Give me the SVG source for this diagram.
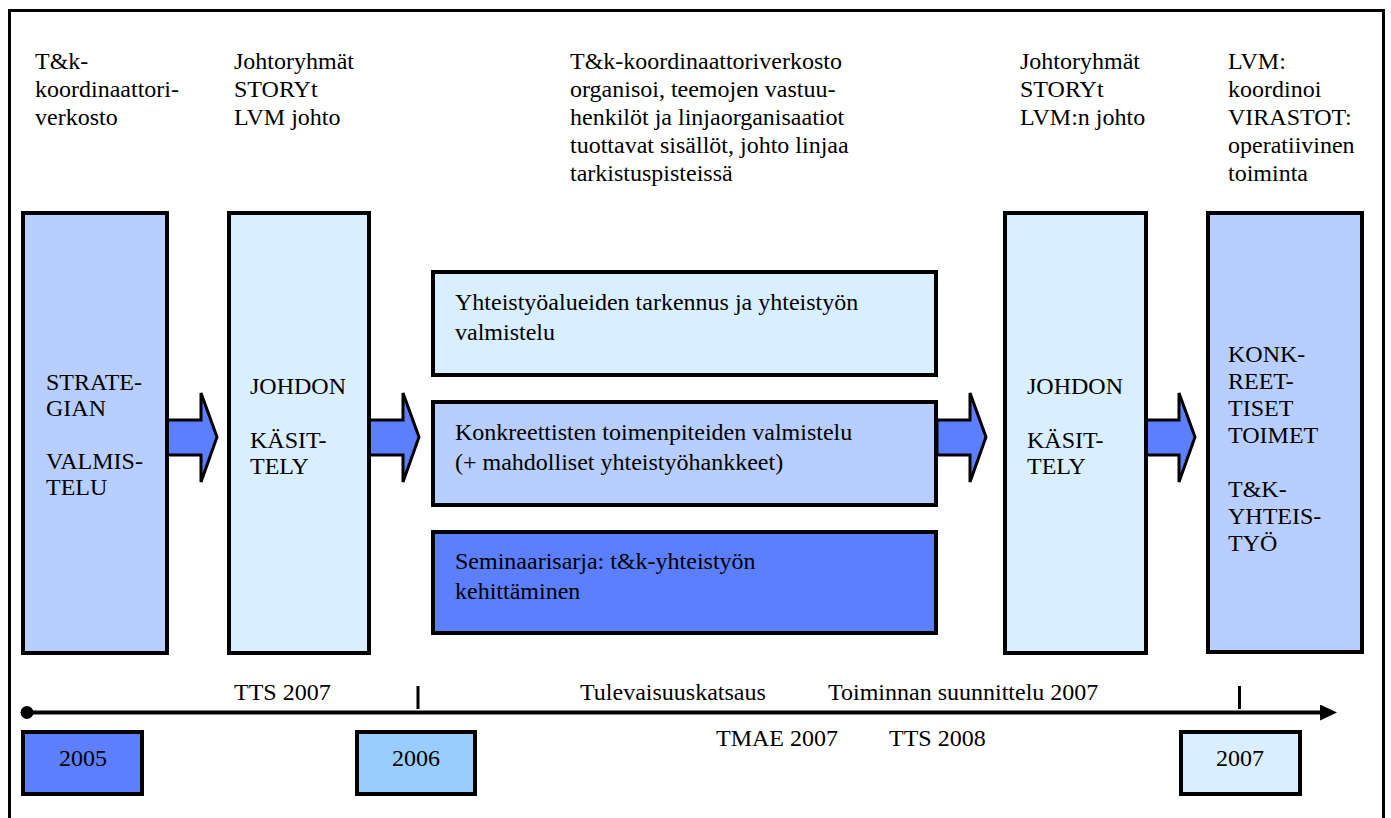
<svg xmlns="http://www.w3.org/2000/svg" width="1391" height="818" viewBox="0 0 1391 818">
<style>
text{font-family:"Liberation Serif","Times New Roman",serif;font-size:24px;fill:#000}
.box{stroke:#000;stroke-width:4}
.c1{fill:#B7CEFF}
.c2{fill:#D9EEFF}
.c3{fill:#5B7FFF}
.c4{fill:#99CCFF}
.arr{fill:#5B7FFF;stroke:#000;stroke-width:3;stroke-linejoin:miter}
.mid{text-anchor:middle}
</style>
<defs>
<marker id="ah" markerWidth="17" markerHeight="16" refX="0" refY="8" orient="auto" markerUnits="userSpaceOnUse">
<path d="M0,0 L17,8 L0,16 Z" fill="#000"/>
</marker>
</defs>
<rect width="1391" height="818" fill="#fff"/>
<path d="M9.5,830 V10.5 H1383.5 V830" fill="none" stroke="#000" stroke-width="3"/>

<g id="headers">
<text x="35" y="69">T&amp;k-</text>
<text x="35" y="97">koordinaattori-</text>
<text x="35" y="125">verkosto</text>
<text x="234" y="69">Johtoryhmät</text>
<text x="234" y="97">STORYt</text>
<text x="234" y="125">LVM johto</text>
<text x="570" y="69">T&amp;k-koordinaattoriverkosto</text>
<text x="570" y="97">organisoi, teemojen vastuu-</text>
<text x="570" y="125">henkilöt ja linjaorganisaatiot</text>
<text x="570" y="153">tuottavat sisällöt, johto linjaa</text>
<text x="570" y="181">tarkistuspisteissä</text>
<text x="1020" y="69">Johtoryhmät</text>
<text x="1020" y="97">STORYt</text>
<text x="1020" y="125">LVM:n johto</text>
<text x="1228" y="69">LVM:</text>
<text x="1228" y="97">koordinoi</text>
<text x="1228" y="125">VIRASTOT:</text>
<text x="1228" y="153">operatiivinen</text>
<text x="1228" y="181">toiminta</text>
</g>

<g id="connectors">
<polygon class="arr" points="167,420 201,420 201,393 217,437 201,482 201,455 167,455"/>
<polygon class="arr" points="369,420 403,420 403,393 419,437 403,482 403,455 369,455"/>
<polygon class="arr" points="937,420 970,420 970,393 986,437 970,482 970,455 937,455"/>
<polygon class="arr" points="1146,420 1179,420 1179,393 1195,437 1179,482 1179,455 1146,455"/>
</g>

<g id="node-strategia">
<rect class="box c1" x="23" y="213" width="144" height="440"/>
<text x="46" y="390">STRATE-</text>
<text x="46" y="416">GIAN</text>
<text x="46" y="469">VALMIS-</text>
<text x="46" y="495">TELU</text>
</g>

<g id="node-johdon1">
<rect class="box c2" x="229" y="213" width="140" height="440"/>
<text x="250" y="394">JOHDON</text>
<text x="250" y="448">KÄSIT-</text>
<text x="250" y="474">TELY</text>
</g>

<g id="node-yhteistyoalueet">
<rect class="box c2" x="433" y="272" width="503" height="103"/>
<text x="455" y="310">Yhteistyöalueiden tarkennus ja yhteistyön</text>
<text x="455" y="340">valmistelu</text>
</g>

<g id="node-konkreettiset">
<rect class="box c1" x="433" y="402" width="503" height="103"/>
<text x="455" y="440">Konkreettisten toimenpiteiden valmistelu</text>
<text x="455" y="470">(+ mahdolliset yhteistyöhankkeet)</text>
</g>

<g id="node-seminaari">
<rect class="box c3" x="433" y="532" width="503" height="101"/>
<text x="455" y="569">Seminaarisarja: t&amp;k-yhteistyön</text>
<text x="455" y="599">kehittäminen</text>
</g>

<g id="node-johdon2">
<rect class="box c2" x="1005" y="213" width="141" height="440"/>
<text x="1027" y="394">JOHDON</text>
<text x="1027" y="448">KÄSIT-</text>
<text x="1027" y="474">TELY</text>
</g>

<g id="node-toimet">
<rect class="box c1" x="1208" y="213" width="154" height="439"/>
<text x="1228" y="362">KONK-</text>
<text x="1228" y="389">REET-</text>
<text x="1228" y="416">TISET</text>
<text x="1228" y="443">TOIMET</text>
<text x="1228" y="497">T&amp;K-</text>
<text x="1228" y="524">YHTEIS-</text>
<text x="1228" y="551">TYÖ</text>
</g>

<g id="timeline">
<circle cx="27" cy="712.5" r="6.5" fill="#000"/>
<line x1="27" y1="712.5" x2="1320" y2="712.5" stroke="#000" stroke-width="4" marker-end="url(#ah)"/>
<line x1="418" y1="686" x2="418" y2="709" stroke="#000" stroke-width="3"/>
<line x1="1239.5" y1="686" x2="1239.5" y2="709" stroke="#000" stroke-width="3"/>
<text x="234" y="700">TTS 2007</text>
<text x="580" y="700">Tulevaisuuskatsaus</text>
<text x="828" y="700">Toiminnan suunnittelu 2007</text>
<text x="716" y="746">TMAE 2007</text>
<text x="889" y="746">TTS 2008</text>
</g>

<g id="year-2005">
<rect class="box c3" x="23" y="732" width="119" height="62"/>
<text class="mid" x="83" y="766">2005</text>
</g>
<g id="year-2006">
<rect class="box c4" x="357" y="732" width="118" height="62"/>
<text class="mid" x="416" y="766">2006</text>
</g>
<g id="year-2007">
<rect class="box c2" x="1181" y="732" width="119" height="62"/>
<text class="mid" x="1240" y="766">2007</text>
</g>
</svg>
